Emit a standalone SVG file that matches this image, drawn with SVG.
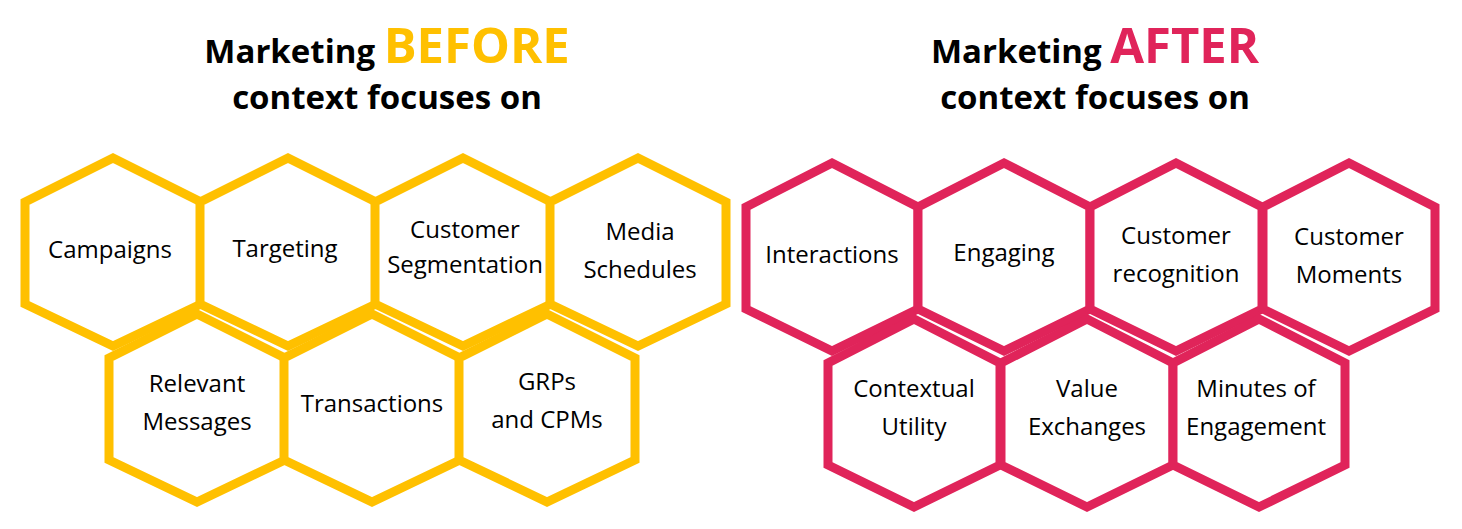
<svg xmlns="http://www.w3.org/2000/svg" width="1462" height="529" viewBox="0 0 1462 529">
<defs>
<style>
.y{fill:#fff;stroke:#FFC000;stroke-width:9;stroke-linejoin:miter}
.r{fill:#fff;stroke:#E0245A;stroke-width:9;stroke-linejoin:miter}
.t{font-family:"Open Sans","Liberation Sans",sans-serif;font-size:24px;fill:#000;text-anchor:middle}
.h{font-family:"Open Sans","Liberation Sans",sans-serif;font-weight:bold;fill:#000;text-anchor:middle}
</style>
<polygon id="hy" points="0,-94 88,-50 88,52 0,94 -88,52 -88,-50"/>
<polygon id="hr" points="0,-94 86,-50 86,52 0,94 -86,52 -86,-50"/>
</defs>
<g id="titles">
<text class="h" x="387" y="63" font-size="33">Marketing <tspan font-size="49" fill="#FFC000">BEFORE</tspan></text>
<text class="h" x="387" y="109" font-size="33">context focuses on</text>
<text class="h" x="1095" y="63" font-size="33">Marketing <tspan font-size="49" fill="#E0245A">AFTER</tspan></text>
<text class="h" x="1095" y="109" font-size="33">context focuses on</text>
</g>
<g id="connectors"/>
<g id="n1"><use href="#hy" class="y" x="113" y="252"/><text class="t" x="110" y="258">Campaigns</text></g>
<g id="n2"><use href="#hy" class="y" x="288" y="252"/><text class="t" x="285" y="257">Targeting</text></g>
<g id="n3"><use href="#hy" class="y" x="463" y="252"/><text class="t" x="465" y="238" font-size="22">Customer</text><text class="t" x="465" y="273" font-size="22">Segmentation</text></g>
<g id="n4"><use href="#hy" class="y" x="638" y="252"/><text class="t" x="640" y="240">Media</text><text class="t" x="640" y="278">Schedules</text></g>
<g id="n5"><use href="#hy" class="y" x="197" y="408"/><text class="t" x="197" y="392">Relevant</text><text class="t" x="197" y="430">Messages</text></g>
<g id="n6"><use href="#hy" class="y" x="372" y="408"/><text class="t" x="372" y="412">Transactions</text></g>
<g id="n7"><use href="#hy" class="y" x="547" y="408"/><text class="t" x="547" y="390">GRPs</text><text class="t" x="547" y="428">and CPMs</text></g>
<g id="m1"><use href="#hr" class="r" x="832" y="257"/><text class="t" x="832" y="263">Interactions</text></g>
<g id="m2"><use href="#hr" class="r" x="1004" y="257"/><text class="t" x="1004" y="261">Engaging</text></g>
<g id="m3"><use href="#hr" class="r" x="1176" y="257"/><text class="t" x="1176" y="244">Customer</text><text class="t" x="1176" y="282">recognition</text></g>
<g id="m4"><use href="#hr" class="r" x="1349" y="257"/><text class="t" x="1349" y="245">Customer</text><text class="t" x="1349" y="283">Moments</text></g>
<g id="m5"><use href="#hr" class="r" x="914" y="413"/><text class="t" x="914" y="397">Contextual</text><text class="t" x="914" y="435">Utility</text></g>
<g id="m6"><use href="#hr" class="r" x="1087" y="413"/><text class="t" x="1087" y="397">Value</text><text class="t" x="1087" y="435">Exchanges</text></g>
<g id="m7"><use href="#hr" class="r" x="1259" y="413"/><text class="t" x="1256" y="397">Minutes of</text><text class="t" x="1256" y="435">Engagement</text></g>
</svg>
